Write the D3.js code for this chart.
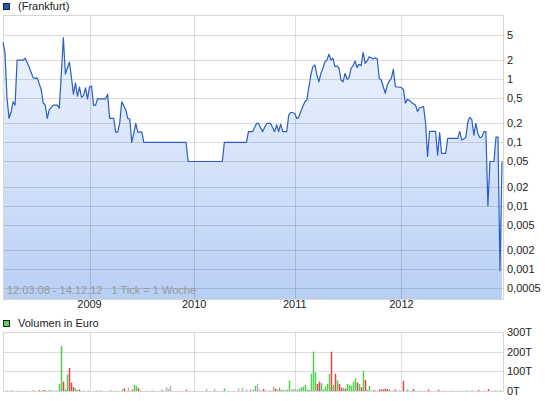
<!DOCTYPE html>
<html>
<head>
<meta charset="utf-8">
<script src="https://cdn.jsdelivr.net/npm/d3@7"></script>
<style>
  body { margin: 0; background: #fff; }
  svg { display: block; font-family: "Liberation Sans", Arial, sans-serif; font-size: 11px; }
  .grid line { stroke: #000; stroke-opacity: 0.13; shape-rendering: crispEdges; }
  .frame { fill: none; stroke: #d6d6d6; shape-rendering: crispEdges; }
  .tick-label { fill: #222; }
</style>
</head>
<body>
<div id="wrapper"></div>
<script>
// price series: week index since 12.03.08 (1 tick = 1 week) and price in EUR
const priceWeeks = [0,1,2,3,4,5,6,7,10,11,13,15,16,17,19,20,21,22,23,25,27,28,30,31,33,34,35,36,37,38,39,40,41,42,43,44,45,46,47,51,52,53,
  55,56,57,58,59,60,61,62,63,64,65,66,67,69,70,91,92,109,110,121,122,124,126,127,129,131,133,135,136,137,138,139,141,142,143,145,146,147,148,150,151,
  153,154,155,156,157,158,159,160,161,162,163,164,165,166,167,168,169,170,171,172,173,174,175,176,177,178,179,180,181,182,184,185,186,187,188,189,
  190,191,192,193,194,195,198,199,200,201,202,203,205,206,207,209,210,211,212,215,216,217,218,220,221,226,227,228,230,231,232,233,234,235,236,237,
  238,239,240,241,242,244,245,246,247,248]
const prices = [3.83,2.6,0.5,0.24,0.3,0.44,0.39,2.0,2.0,2.16,1.56,1.05,1.03,1.05,0.68,0.42,0.39,0.24,0.33,0.39,0.39,0.35,4.53,1.21,1.87,1.08,0.58,0.87,0.54,0.75,0.52,0.55,0.73,0.49,0.75,0.78,0.39,0.39,0.49,0.49,0.58,0.24,
  0.24,0.146,0.146,0.2,0.44,0.38,0.33,0.24,0.235,0.1,0.14,0.2,0.146,0.146,0.1,0.1,0.05,0.05,0.1,0.1,0.148,0.148,0.2,0.2,0.148,0.2,0.2,0.148,0.19,0.148,0.195,0.148,0.148,0.27,0.3,0.29,0.24,0.25,0.31,0.44,0.47,
  1.17,1.58,1.68,1.17,0.91,1.24,1.49,1.89,2.0,2.48,2.0,2.14,1.58,1.62,1.49,0.97,0.91,1.24,1.0,1.06,1.49,1.64,1.94,1.52,1.72,1.64,2.66,1.78,1.94,2.27,2.09,2.19,2.09,1.03,0.97,0.76,
  0.6,0.81,0.94,1.03,1.43,0.76,0.74,0.69,0.42,0.48,0.46,0.43,0.39,0.31,0.35,0.37,0.21,0.06,0.15,0.15,0.063,0.143,0.067,0.067,0.116,0.116,0.15,0.109,0.119,0.21,0.25,0.23,0.131,0.2,0.14,0.119,
  0.123,0.148,0.148,0.01,0.05,0.05,0.121,0.121,0.00094,0.05]

// volume in thousand EUR; direction 1 = up (green), -1 = down (red), 0 = unchanged (grey)
const volWeeks = [2,4,7,11,15,18,20,21,23,24,26,27,28,29,30,31,32,33,34,35,36,37,38,40,42,46,48,53,56,59,60,62,64,65,66,67,68,71,74,78,79,81,82,83,91,95,101,105,110,117,119,121,123,124,125,126,127,129,130,132,134,135,136,137,138,139,140,141,142,143,144,145,146,147,148,149,150,151,152,153,154,155,156,157,158,159,160,161,162,163,164,165,166,167,168,169,170,171,172,173,174,175,176,177,178,179,180,181,182,184,185,187,188,189,190,191,192,194,195,197,199,201,202,204,207,209,211,216,219,223,226,228,230,232,233,236,239,241,244,245,247]
const volValues = [2,3,2,2,3,5,5,5,5,4,3,3,36,229,48,8,83,117,43,19,14,5,8,3,2,3,4,3,3,8,14,17,8,31,26,15,5,3,3,3,8,19,12,26,7,2,10,10,12,12,15,8,10,9,26,36,8,10,5,5,22,12,8,17,4,8,4,8,53,8,8,12,8,12,19,22,31,8,4,88,200,95,36,48,40,8,22,36,88,200,31,88,53,36,17,17,12,36,31,26,48,65,43,36,19,103,57,8,26,5,3,8,8,8,12,10,8,3,7,3,52,8,3,10,3,2,7,7,3,3,2,2,3,2,3,5,3,10,3,2,3]
const volDir = [-1,-1,1,0,-1,-1,-1,1,1,0,0,0,1,1,-1,1,1,-1,-1,-1,1,0,-1,0,-1,0,0,-1,0,1,-1,0,-1,1,1,-1,0,0,0,0,0,0,0,0,-1,0,0,0,1,0,0,0,0,0,1,0,0,-1,0,0,0,-1,0,1,-1,0,1,1,1,0,1,0,0,1,1,1,1,1,-1,1,1,1,-1,-1,1,1,1,1,1,-1,1,-1,1,-1,-1,1,-1,1,1,1,1,1,-1,1,-1,1,-1,0,1,-1,0,-1,-1,-1,-1,-1,1,0,-1,0,-1,1,0,-1,0,0,-1,-1,0,0,0,1,1,0,1,-1,0,-1,1,1,1]

const yearLabels = ["2009", "2010", "2011", "2012"]
const yearWeeks = [43, 95, 145, 198]
const priceTicks = [5, 2, 1, 0.5, 0.2, 0.1, 0.05, 0.02, 0.01, 0.005, 0.002, 0.001, 0.0005]
const volTicks = [0, 100, 200, 300]

function drawChart() {

  // 1. Dimensions

  const dimensions = {
    width: 545,
    height: 401,
    left: 3,
    right: 503,
    priceTop: 15,
    priceBottom: 299,
    volTop: 332,
    volBottom: 391,
  }

  // 2. Canvas

  const svg = d3.select("#wrapper")
    .append("svg")
      .attr("width", dimensions.width)
      .attr("height", dimensions.height)

  const defs = svg.append("defs")
  const grad = defs.append("linearGradient")
      .attr("id", "fill")
      .attr("gradientUnits", "userSpaceOnUse")
      .attr("x1", 0).attr("x2", 0)
      .attr("y1", dimensions.priceTop).attr("y2", dimensions.priceBottom)
  grad.append("stop").attr("offset", "0%").attr("stop-color", "#f3f7fe")
  grad.append("stop").attr("offset", "100%").attr("stop-color", "#b8cff5")

  // 3. Scales

  const xScale = d3.scaleLinear()
    .domain([0, 248])
    .range([dimensions.left, dimensions.right - 1])

  const yScale = d3.scaleLog()
    .domain([0.0005, 5])
    .range([288, 35])

  const volScale = d3.scaleLinear()
    .domain([0, 300])
    .range([dimensions.volBottom, dimensions.volTop])

  const commaFormat = d => String(d).replace(".", ",")

  // 4. Price panel

  const priceData = priceWeeks.map((w, i) => ({ w, v: prices[i] }))

  const area = d3.area()
    .x(d => xScale(d.w))
    .y0(dimensions.priceBottom)
    .y1(d => yScale(d.v))

  const line = d3.line()
    .x(d => xScale(d.w))
    .y(d => yScale(d.v))

  svg.append("path")
      .datum(priceData)
      .attr("d", area)
      .attr("fill", "url(#fill)")

  const priceGrid = svg.append("g").attr("class", "grid")
  priceGrid.selectAll(".h")
    .data(priceTicks)
    .join("line")
      .attr("x1", dimensions.left).attr("x2", dimensions.right)
      .attr("y1", d => Math.round(yScale(d)) + 0.5)
      .attr("y2", d => Math.round(yScale(d)) + 0.5)
  priceGrid.selectAll(".v")
    .data(yearWeeks)
    .join("line")
      .attr("x1", d => Math.round(xScale(d)) + 0.5)
      .attr("x2", d => Math.round(xScale(d)) + 0.5)
      .attr("y1", dimensions.priceTop).attr("y2", dimensions.priceBottom)

  svg.append("rect")
      .attr("class", "frame")
      .attr("x", dimensions.left + 0.5)
      .attr("y", dimensions.priceTop + 0.5)
      .attr("width", dimensions.right - dimensions.left)
      .attr("height", dimensions.priceBottom - dimensions.priceTop)

  svg.append("path")
      .datum(priceData)
      .attr("d", line)
      .attr("fill", "none")
      .attr("stroke", "#2a5ec4")
      .attr("stroke-width", 1.2)
      .attr("stroke-linejoin", "round")

  svg.selectAll(".price-label")
    .data(priceTicks)
    .join("text")
      .attr("class", "tick-label")
      .attr("x", dimensions.right + 4)
      .attr("y", d => yScale(d))
      .attr("dy", "0.35em")
      .text(commaFormat)

  svg.selectAll(".year-label")
    .data(yearWeeks)
    .join("text")
      .attr("class", "tick-label")
      .attr("x", d => xScale(d))
      .attr("y", 308)
      .attr("text-anchor", "middle")
      .text((d, i) => yearLabels[i])

  svg.append("text")
      .attr("x", 7)
      .attr("y", 294)
      .attr("fill", "#999")
      .style("white-space", "pre")
      .text("12.03.08 - 14.12.12   1 Tick = 1 Woche")

  // legend
  svg.append("rect")
      .attr("x", 3.5).attr("y", 3.5)
      .attr("width", 6).attr("height", 6)
      .attr("fill", "#1f55c0")
      .attr("stroke", "#222")
  svg.append("text")
      .attr("class", "tick-label")
      .attr("x", 18).attr("y", 10)
      .text("(Frankfurt)")

  // 5. Volume panel

  const volGrid = svg.append("g").attr("class", "grid")
  volGrid.selectAll(".h")
    .data(volTicks.slice(1, 3))
    .join("line")
      .attr("x1", dimensions.left).attr("x2", dimensions.right)
      .attr("y1", d => Math.round(volScale(d)) + 0.5)
      .attr("y2", d => Math.round(volScale(d)) + 0.5)
  volGrid.selectAll(".v")
    .data(yearWeeks)
    .join("line")
      .attr("x1", d => Math.round(xScale(d)) + 0.5)
      .attr("x2", d => Math.round(xScale(d)) + 0.5)
      .attr("y1", dimensions.volTop).attr("y2", dimensions.volBottom)

  svg.append("rect")
      .attr("class", "frame")
      .attr("x", dimensions.left + 0.5)
      .attr("y", dimensions.volTop + 0.5)
      .attr("width", dimensions.right - dimensions.left)
      .attr("height", dimensions.volBottom - dimensions.volTop)

  const volColor = d => d > 0 ? "#4fd14f" : d < 0 ? "#e04848" : "#b4b4b4"

  // bars sit half a pixel off the grid so thin coloured bars keep their colour
  svg.selectAll(".bar")
    .data(volWeeks.map((w, i) => ({ w, v: volValues[i], dir: volDir[i] })))
    .join("rect")
      .attr("class", "bar")
      .attr("x", d => Math.round(xScale(d.w)) - 0.25)
      .attr("width", 1.5)
      .attr("y", d => volScale(d.v))
      .attr("height", d => dimensions.volBottom - volScale(d.v))
      .attr("fill", d => volColor(d.dir))

  svg.selectAll(".vol-label")
    .data(volTicks)
    .join("text")
      .attr("class", "tick-label")
      .attr("x", dimensions.right + 4)
      .attr("y", d => volScale(d))
      .attr("dy", "0.35em")
      .text(d => d + "T")

  svg.append("rect")
      .attr("x", 3.5).attr("y", 320.5)
      .attr("width", 6).attr("height", 6)
      .attr("fill", "#5ed25e")
      .attr("stroke", "#222")
  svg.append("text")
      .attr("class", "tick-label")
      .attr("x", 18).attr("y", 327)
      .text("Volumen in Euro")
}
drawChart()
</script>
</body>
</html>
